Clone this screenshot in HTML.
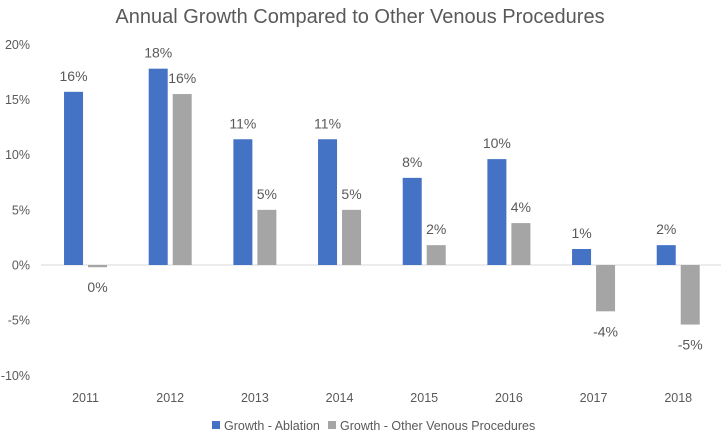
<!DOCTYPE html>
<html><head><meta charset="utf-8"><style>
body{margin:0;background:#fff;}
svg text{font-family:"Liberation Sans",sans-serif;fill:#595959;}
</style></head><body>
<svg id="c" width="721" height="436" xmlns="http://www.w3.org/2000/svg">
<text x="360" y="23" font-size="20" text-anchor="middle">Annual Growth Compared to Other Venous Procedures</text>
<g id="plot"></g>
<g>
<rect x="212" y="421" width="8" height="8" fill="#4472c4"/>
<text x="224" y="430" font-size="12.5">Growth - Ablation</text>
<rect x="328" y="421" width="8" height="8" fill="#a5a5a5"/>
<text x="340" y="430" font-size="12.5">Growth - Other Venous Procedures</text>
</g>
</svg>
<script>
const categories=["2011","2012","2013","2014","2015","2016","2017","2018"];
const ablation=[15.7,17.8,11.4,11.4,7.9,9.6,1.45,1.8];
const other=[-0.2,15.5,5.0,5.0,1.8,3.8,-4.2,-5.4];
const ablationLabels=["16%","18%","11%","11%","8%","10%","1%","2%"];
const otherLabels=["0%","16%","5%","5%","2%","4%","-4%","-5%"];
const yTicks=[20,15,10,5,0,-5,-10];
const NS="http://www.w3.org/2000/svg";
const g=document.getElementById('plot');
const x0=43.2,band=84.67,bw=19,gap=5;
const y=v=>265-v*11.03;
const cx=i=>x0+band*(i+0.5);
function mk(t,a){const e=document.createElementNS(NS,t);for(const k in a)e.setAttribute(k,a[k]);g.appendChild(e);return e;}
yTicks.forEach(t=>{const e=mk('text',{x:30,y:y(t)+4.5,'font-size':12.5,'text-anchor':'end'});e.textContent=t+'%';

});
const zl=mk('line',{x1:41,x2:721,y1:y(0),y2:y(0),stroke:'#d9d9d9','stroke-width':1});


function bar(v,x,col,lab,name){
 const top=Math.min(y(v),y(0)),h=Math.abs(y(v)-y(0));
 const r=mk('rect',{x:x,y:top,width:bw,height:Math.max(h,1),fill:col});
 
 
 const ty=v>=0?y(v)-11:y(v)+25;
 const t=mk('text',{x:x+bw/2,y:ty,'font-size':14,'text-anchor':'middle'});t.textContent=lab;
 
 
}
categories.forEach((c,i)=>{
 const m=cx(i);
 bar(ablation[i],m-gap/2-bw,'#4472c4',ablationLabels[i],'bar-ablation-'+c);
 bar(other[i],m+gap/2,'#a5a5a5',otherLabels[i],'bar-other-'+c);
 const t=mk('text',{x:m,y:402,'font-size':12.5,'text-anchor':'middle'});t.textContent=c;
 
 
});
</script>
</body></html>
